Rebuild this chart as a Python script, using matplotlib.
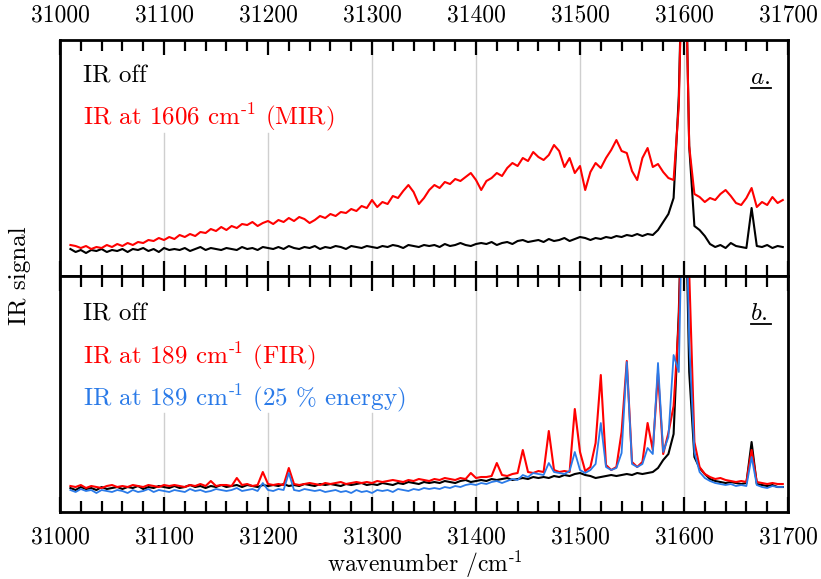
import numpy as np
import matplotlib
matplotlib.use("Agg")
import matplotlib.pyplot as plt
from matplotlib.ticker import FixedLocator, MultipleLocator

plt.rcParams['font.family'] = ['cmr10', 'DejaVu Serif']
plt.rcParams['mathtext.fontset'] = 'cm'
plt.rcParams['axes.formatter.use_mathtext'] = True

wavenumber = np.arange(31010, 31696, 5)

# panel a: IR off / IR at 1606 cm-1 (signal, arbitrary units)
top_off = [
    27, 24, 26, 23, 26, 25, 27, 24, 26, 25,
    27, 24, 27, 26, 28, 25, 27, 24, 28, 26,
    27, 26, 28, 25, 27, 29, 26, 28, 27, 26,
    28, 27, 26, 29, 27, 28, 26, 29, 28, 27,
    29, 27, 30, 28, 27, 29, 28, 30, 27, 29,
    28, 30, 29, 27, 30, 29, 28, 30, 29, 28,
    30, 29, 31, 30, 28, 31, 30, 29, 31, 30,
    31, 29, 32, 30, 31, 33, 31, 30, 32, 33,
    32, 34, 31, 33, 34, 32, 35, 36, 34, 35,
    36, 34, 37, 35, 36, 38, 35, 37, 39, 38,
    36, 38, 37, 39, 38, 40, 39, 41, 40, 42,
    40, 42, 41, 46, 54, 62, 78, 180, 400, 130,
    50, 46, 40, 32, 29, 31, 28, 33, 30, 29,
    28, 68, 30, 29, 31, 28, 30, 29,
]
top_mir = [
    31, 30, 28, 30, 27, 29, 28, 31, 29, 32,
    30, 33, 31, 34, 33, 36, 35, 38, 36, 39,
    37, 41, 39, 42, 40, 44, 43, 47, 45, 49,
    46, 50, 48, 52, 51, 54, 50, 53, 55, 52,
    56, 54, 58, 55, 59, 57, 53, 56, 60, 58,
    62, 60, 64, 63, 67, 65, 70, 68, 76, 69,
    74, 72, 80, 78, 85, 91, 84, 72, 78, 86,
    91, 88, 94, 92, 97, 95, 99, 103, 96, 86,
    95, 98, 103, 100, 108, 113, 110, 118, 115, 124,
    119, 116, 121, 131, 125, 109, 118, 103, 110, 86,
    104, 113, 108, 118, 126, 136, 125, 123, 105, 96,
    118, 128, 109, 112, 104, 98, 96, 170, 400, 130,
    82, 79, 74, 78, 76, 82, 86, 80, 73, 71,
    78, 88, 69, 74, 71, 79, 73, 76,
]

# panel b: IR off / IR at 189 cm-1 / IR at 189 cm-1 with 25 % energy
bot_off = [
    24, 22, 25, 23, 24, 22, 25, 23, 24, 25,
    23, 25, 24, 26, 23, 25, 24, 26, 25, 24,
    26, 24, 25, 27, 25, 26, 24, 26, 25, 27,
    25, 26, 27, 25, 27, 26, 25, 27, 26, 27,
    26, 28, 26, 27, 26, 28, 27, 26, 28, 27,
    28, 27, 26, 28, 27, 28, 29, 27, 28, 27,
    29, 28, 27, 29, 28, 30, 29, 28, 30, 29,
    30, 29, 31, 30, 29, 31, 32, 30, 31, 32,
    31, 33, 32, 33, 34, 32, 33, 34, 33, 35,
    34, 35, 34, 36, 35, 37, 36, 38, 39, 37,
    36, 34, 35, 36, 37, 36, 37, 38, 37, 39,
    38, 39, 40, 44, 52, 58, 78, 200, 400, 140,
    55, 44, 38, 33, 31, 30, 29, 30, 29, 28,
    29, 70, 28, 27, 26, 27, 25, 25,
]
bot_fir = [
    26, 25, 27, 24, 26, 25, 24, 26, 27, 25,
    26, 25, 27, 26, 25, 27, 26, 25, 27, 26,
    27, 26, 25, 27, 26, 28, 26, 31, 26, 27,
    27, 26, 34, 27, 28, 26, 27, 40, 28, 27,
    28, 27, 44, 28, 27, 28, 29, 28, 27, 29,
    28, 29, 30, 28, 29, 30, 29, 30, 29, 31,
    30, 31, 32, 31, 30, 32, 31, 33, 32, 31,
    33, 32, 34, 33, 32, 34, 33, 39, 34, 35,
    35, 36, 49, 37, 36, 38, 39, 62, 40, 39,
    41, 40, 81, 42, 40, 41, 40, 103, 60, 41,
    45, 69, 137, 47, 42, 45, 80, 151, 50, 45,
    50, 89, 62, 139, 58, 79, 106, 190, 400, 240,
    70, 45, 38, 35, 33, 34, 32, 31, 30, 31,
    30, 62, 30, 29, 28, 29, 28, 28,
]
bot_fir_25 = [
    22, 20, 23, 21, 22, 19, 22, 21, 20, 22,
    21, 19, 22, 20, 21, 23, 20, 22, 21, 20,
    22, 21, 20, 23, 21, 22, 20, 21, 23, 22,
    21, 22, 24, 21, 22, 23, 21, 29, 22, 21,
    23, 22, 39, 22, 21, 23, 22, 21, 22, 20,
    21, 22, 20, 21, 19, 22, 20, 21, 19, 22,
    21, 22, 20, 23, 22, 21, 23, 22, 24, 23,
    24, 23, 25, 24, 26, 25, 27, 28, 27, 29,
    28, 30, 31, 29, 31, 33, 32, 37, 35, 39,
    38, 37, 49, 40, 39, 38, 41, 60, 42, 39,
    42, 48, 89, 45, 42, 44, 59, 150, 48, 45,
    48, 64, 58, 149, 60, 75, 157, 140, 400, 170,
    60, 40, 34, 31, 29, 28, 27, 28, 26, 27,
    26, 55, 27, 25, 24, 26, 25, 25,
]

tick_values = [31000, 31100, 31200, 31300, 31400, 31500, 31600, 31700]
tick_labels = [str(t) for t in tick_values]

RED = '#ff0000'
BLUE = '#2a7ae8'
GRID = '#cfcfcf'
CM = r'cm$^{\text{-1}}$'
FS = 18


def style_panel(ax, label_top):
    """Box-style axes with inward ticks on both x sides and no y ticks."""
    ax.set_xlim(31000, 31700)
    ax.set_ylim(0, 236)
    ax.xaxis.set_major_locator(FixedLocator(tick_values))
    ax.xaxis.set_minor_locator(MultipleLocator(20))
    ax.set_xticklabels(tick_labels)
    ax.tick_params(axis='x', which='both', direction='in', top=True, bottom=True,
                   labeltop=label_top, labelbottom=not label_top,
                   labelsize=17, width=1.6, pad=10)
    ax.tick_params(axis='x', which='major', length=11)
    ax.tick_params(axis='x', which='minor', length=8)
    ax.set_yticks([])
    for s in ax.spines.values():
        s.set_linewidth(2)


def underlined(ax, text, x, y, y_line, x0, x1):
    """Italic panel letter with a short rule below it."""
    ax.text(x, y, text, transform=ax.transAxes, fontsize=FS, ha='left', va='center')
    ax.plot([x0, x1], [y_line, y_line], transform=ax.transAxes, color='k', lw=1.3)


fig = plt.figure(figsize=(8.21, 5.79), dpi=100)
ax1 = fig.add_axes([0.0731, 0.5233, 0.8867, 0.4076])
ax2 = fig.add_axes([0.0731, 0.1157, 0.8867, 0.4076])

# panel a
for wn in tick_values[1:7]:
    ymax = 0.606 if wn < 31300 else 1.0
    ax1.axvline(wn, ymin=0, ymax=ymax, color=GRID, lw=1, zorder=0)
ax1.plot(wavenumber, top_off, color='k', lw=1.5)
ax1.plot(wavenumber, top_mir, color=RED, lw=1.5)
ax1.text(0.031, 0.845, 'IR off', transform=ax1.transAxes, fontsize=FS, va='center')
ax1.text(0.031, 0.675, 'IR at 1606 ' + CM + ' (MIR)', transform=ax1.transAxes,
         fontsize=FS, va='center', color=RED)
underlined(ax1, r'$a.$', 0.948, 0.84, 0.795, 0.949, 0.977)
style_panel(ax1, label_top=True)

# panel b
for wn in tick_values[1:7]:
    ymax = 0.42 if wn < 31400 else 1.0
    ax2.axvline(wn, ymin=0, ymax=ymax, color=GRID, lw=1, zorder=0)
ax2.plot(wavenumber, bot_off, color='k', lw=1.5)
ax2.plot(wavenumber, bot_fir, color=RED, lw=1.5)
ax2.plot(wavenumber, bot_fir_25, color=BLUE, lw=1.3)
ax2.text(0.031, 0.838, 'IR off', transform=ax2.transAxes, fontsize=FS, va='center')
ax2.text(0.031, 0.66, 'IR at 189 ' + CM + ' (FIR)', transform=ax2.transAxes,
         fontsize=FS, va='center', color=RED)
ax2.text(0.031, 0.482, 'IR at 189 ' + CM + ' (25 % energy)', transform=ax2.transAxes,
         fontsize=FS, va='center', color=BLUE)
underlined(ax2, r'$b.$', 0.948, 0.84, 0.795, 0.949, 0.977)
style_panel(ax2, label_top=False)

fig.text(0.517, 0.013, 'wavenumber /' + CM, fontsize=17, ha='center', va='baseline')
fig.text(0.024, 0.523, 'IR signal', fontsize=FS, rotation=90, ha='center', va='center')

fig.savefig('out.png', dpi=100)
